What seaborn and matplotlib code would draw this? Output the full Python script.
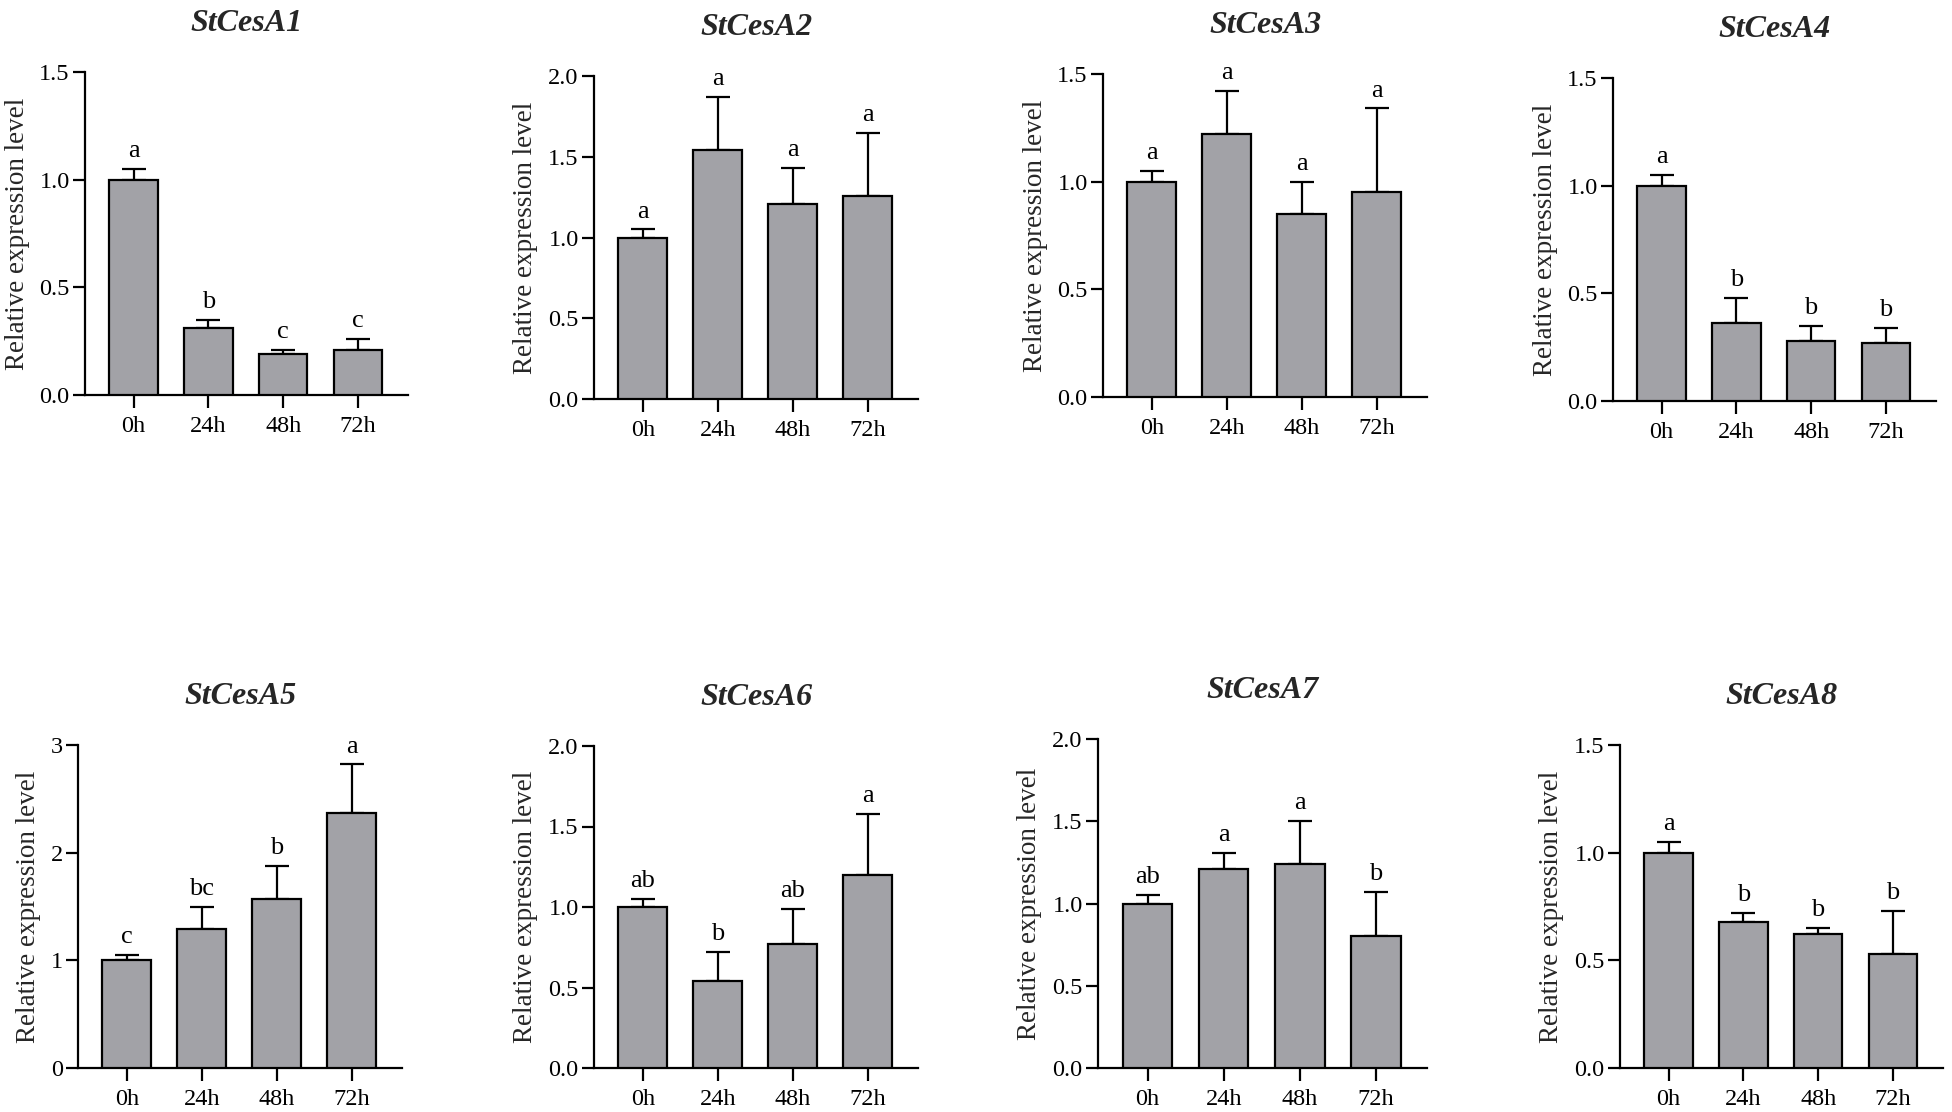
import numpy as np
import pandas as pd
import matplotlib
matplotlib.use("Agg")
import matplotlib.pyplot as plt
import seaborn as sns
from matplotlib.ticker import FormatStrFormatter

sns.set_style("ticks")
plt.rcParams['font.family'] = ['Liberation Serif', 'DejaVu Serif']

times = ['0h', '24h', '48h', '72h']
genes = ['StCesA1', 'StCesA2', 'StCesA3', 'StCesA4',
         'StCesA5', 'StCesA6', 'StCesA7', 'StCesA8']

mean_A1 = [1.00, 0.31, 0.19, 0.21]
sd_A1 = [0.05, 0.04, 0.02, 0.05]
mean_A2 = [1.00, 1.54, 1.21, 1.26]
sd_A2 = [0.05, 0.33, 0.22, 0.39]
mean_A3 = [1.00, 1.22, 0.85, 0.95]
sd_A3 = [0.05, 0.20, 0.15, 0.39]
mean_A4 = [1.00, 0.36, 0.28, 0.27]
sd_A4 = [0.05, 0.12, 0.07, 0.07]
mean_A5 = [1.00, 1.29, 1.57, 2.37]
sd_A5 = [0.05, 0.21, 0.31, 0.45]
mean_A6 = [1.00, 0.54, 0.77, 1.20]
sd_A6 = [0.05, 0.18, 0.22, 0.38]
mean_A7 = [1.00, 1.21, 1.24, 0.80]
sd_A7 = [0.05, 0.10, 0.26, 0.27]
mean_A8 = [1.00, 0.68, 0.62, 0.53]
sd_A8 = [0.05, 0.04, 0.03, 0.20]

letters_A1 = ['a', 'b', 'c', 'c']
letters_A2 = ['a', 'a', 'a', 'a']
letters_A3 = ['a', 'a', 'a', 'a']
letters_A4 = ['a', 'b', 'b', 'b']
letters_A5 = ['c', 'bc', 'b', 'a']
letters_A6 = ['ab', 'b', 'ab', 'a']
letters_A7 = ['ab', 'a', 'a', 'b']
letters_A8 = ['a', 'b', 'b', 'b']

ymax = [1.5, 2.0, 1.5, 1.5, 3, 2.0, 2.0, 1.5]
ystep = [0.5, 0.5, 0.5, 0.5, 1, 0.5, 0.5, 0.5]

means = [mean_A1, mean_A2, mean_A3, mean_A4, mean_A5, mean_A6, mean_A7, mean_A8]
sds = [sd_A1, sd_A2, sd_A3, sd_A4, sd_A5, sd_A6, sd_A7, sd_A8]
letters = [letters_A1, letters_A2, letters_A3, letters_A4,
           letters_A5, letters_A6, letters_A7, letters_A8]

W, H = 1952, 1112
# axes boxes in pixels: (left, zero_y, top_y, right)
boxes = [(85, 395, 72, 408), (594, 399, 76, 918), (1103, 397, 74, 1427), (1613, 401, 78, 1936),
         (78, 1068, 745, 402), (594, 1068, 746, 918), (1098, 1068, 739, 1427), (1620, 1068, 745, 1943)]

fig = plt.figure(figsize=(W / 100, H / 100), dpi=100)
bar_color = '#A2A2A7'

for i, g in enumerate(genes):
    l, zy, ty, r = boxes[i]
    ax = fig.add_axes([l / W, 1 - zy / H, (r - l) / W, (zy - ty) / H])
    df = pd.DataFrame({'time': times, 'value': means[i]})
    sns.barplot(data=df, x='time', y='value', color=bar_color, saturation=1,
                edgecolor='black', linewidth=1.6, width=0.65, errorbar=None, ax=ax, zorder=3)
    x = np.arange(len(times))
    ax.errorbar(x, means[i], yerr=[np.zeros(4), sds[i]], fmt='none', ecolor='black',
                elinewidth=1.6, capsize=8.5, capthick=1.6, zorder=2)
    for xi, m, s, lt in zip(x, means[i], sds[i], letters[i]):
        ax.annotate(lt, (xi, m + s), xytext=(0, 8.5), textcoords='offset points',
                    ha='center', va='baseline', fontsize=19, color='black')
    ax.set_xlim(-0.65, 3.67)
    ax.set_ylim(0, ymax[i])
    ax.set_yticks(np.arange(0, ymax[i] + 1e-9, ystep[i]))
    if ystep[i] < 1:
        ax.yaxis.set_major_formatter(FormatStrFormatter('%.1f'))
    else:
        ax.yaxis.set_major_formatter(FormatStrFormatter('%d'))
    ax.set_xlabel('')
    ax.set_ylabel('Relative expression level', fontsize=19.5, labelpad=7)
    ax.set_title(g, fontsize=23, fontweight='bold', fontstyle='italic', pad=29.5)
    for side in ['top', 'right']:
        ax.spines[side].set_visible(False)
    for side in ['left', 'bottom']:
        ax.spines[side].set_linewidth(1.6)
        ax.spines[side].set_color('black')
    ax.tick_params(axis='both', which='major', length=9, width=1.6, color='black',
                   labelsize=17.5, labelcolor='black')
    ax.tick_params(axis='y', pad=2)
    ax.tick_params(axis='x', pad=6)

fig.savefig('out.png', dpi=100, facecolor='white')
